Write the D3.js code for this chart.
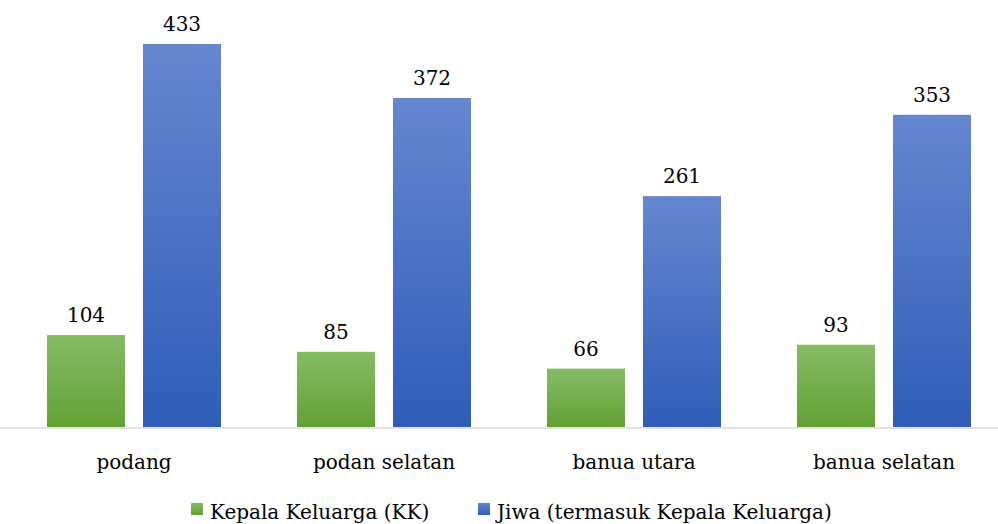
<!DOCTYPE html>
<html>
<head>
<meta charset="utf-8">
<script src="https://cdn.jsdelivr.net/npm/d3@7"></script>
<style>
    body { margin: 0; background: #fff; }
    text { font-family: "DejaVu Serif", serif; fill: #000; }
</style>
</head>
<body>
<svg id="chart" width="998" height="524"></svg>
<script>
var categories = ["podang", "podan selatan", "banua utara", "banua selatan"];
var seriesNames = ["Kepala Keluarga (KK)", "Jiwa (termasuk Kepala Keluarga)"];
var kkValues = [104, 85, 66, 93];
var jiwaValues = [433, 372, 261, 353];

(function()
{
    "use strict";

    var svg = d3.select("#chart");
    const BASE_Y = 427;
    const FONT_SIZE = 20;

    var defs = svg.append("defs");
    var gradients = [
        { id: "gradGreen", top: "#87bb65", bottom: "#62a133" },
        { id: "gradBlue", top: "#6686d0", bottom: "#2f5db8" }
    ];
    gradients.forEach(function(g)
    {
        var lg = defs.append("linearGradient")
            .attr("id", g.id)
            .attr("x1", 0).attr("y1", 0).attr("x2", 0).attr("y2", 1);
        lg.append("stop").attr("offset", "0%").attr("stop-color", g.top);
        lg.append("stop").attr("offset", "100%").attr("stop-color", g.bottom);
    });
    var fills = ["url(#gradGreen)", "url(#gradBlue)"];

    var x = d3.scaleBand()
        .domain(categories)
        .range([9, 1009])
        .paddingInner(0.304)
        .paddingOuter(0.152);

    var xInner = d3.scaleBand()
        .domain([0, 1])
        .range([0, x.bandwidth()])
        .paddingInner(0.1875);

    var y = d3.scaleLinear()
        .domain([0, 433])
        .range([BASE_Y, 44]);

    var data = categories.map(function(c, i)
    {
        return { category: c, values: [kkValues[i], jiwaValues[i]] };
    });

    // Axis baseline
    svg.append("line")
        .attr("x1", 0).attr("x2", 998)
        .attr("y1", BASE_Y + 1).attr("y2", BASE_Y + 1)
        .attr("stroke", "#d9d9d9")
        .attr("stroke-width", 1.5);

    var groups = svg.append("g")
        .selectAll("g")
        .data(data)
        .enter().append("g")
            .attr("transform", function(d) { return "translate(" + x(d.category) + ",0)"; });

    var bars = groups.selectAll("g.bar")
        .data(function(d) { return d.values.map(function(v, i) { return { s: i, v: v }; }); })
        .enter().append("g")
            .attr("class", "bar");

    bars.append("rect")
        .attr("x", function(d) { return xInner(d.s); })
        .attr("y", function(d) { return y(d.v); })
        .attr("width", xInner.bandwidth())
        .attr("height", function(d) { return BASE_Y - y(d.v); })
        .attr("fill", function(d) { return fills[d.s]; });

    bars.append("text")
        .attr("x", function(d) { return xInner(d.s) + xInner.bandwidth() / 2; })
        .attr("y", function(d) { return y(d.v) - 13; })
        .attr("text-anchor", "middle")
        .attr("font-size", FONT_SIZE)
        .text(function(d) { return d.v; });

    // Category labels
    var xAxis = d3.axisBottom(x).tickSize(0).tickPadding(0);
    var axisG = svg.append("g")
        .attr("transform", "translate(0," + BASE_Y + ")")
        .call(xAxis);
    axisG.select(".domain").remove();
    axisG.selectAll("text")
        .attr("font-size", FONT_SIZE)
        .attr("dy", null)
        .attr("y", 42)
        .style("font-family", "DejaVu Serif, serif")
        .attr("fill", "#000");

    // Legend
    var legendX = [191, 478];
    var legend = svg.append("g")
        .selectAll("g")
        .data(seriesNames)
        .enter().append("g")
            .attr("transform", function(d, i) { return "translate(" + legendX[i] + ",503)"; });

    legend.append("rect")
        .attr("width", 12).attr("height", 12)
        .attr("fill", function(d, i) { return fills[i]; });

    legend.append("text")
        .attr("x", 19)
        .attr("y", 16)
        .attr("font-size", FONT_SIZE)
        .text(function(d) { return d; });
})();
</script>
</body>
</html>
